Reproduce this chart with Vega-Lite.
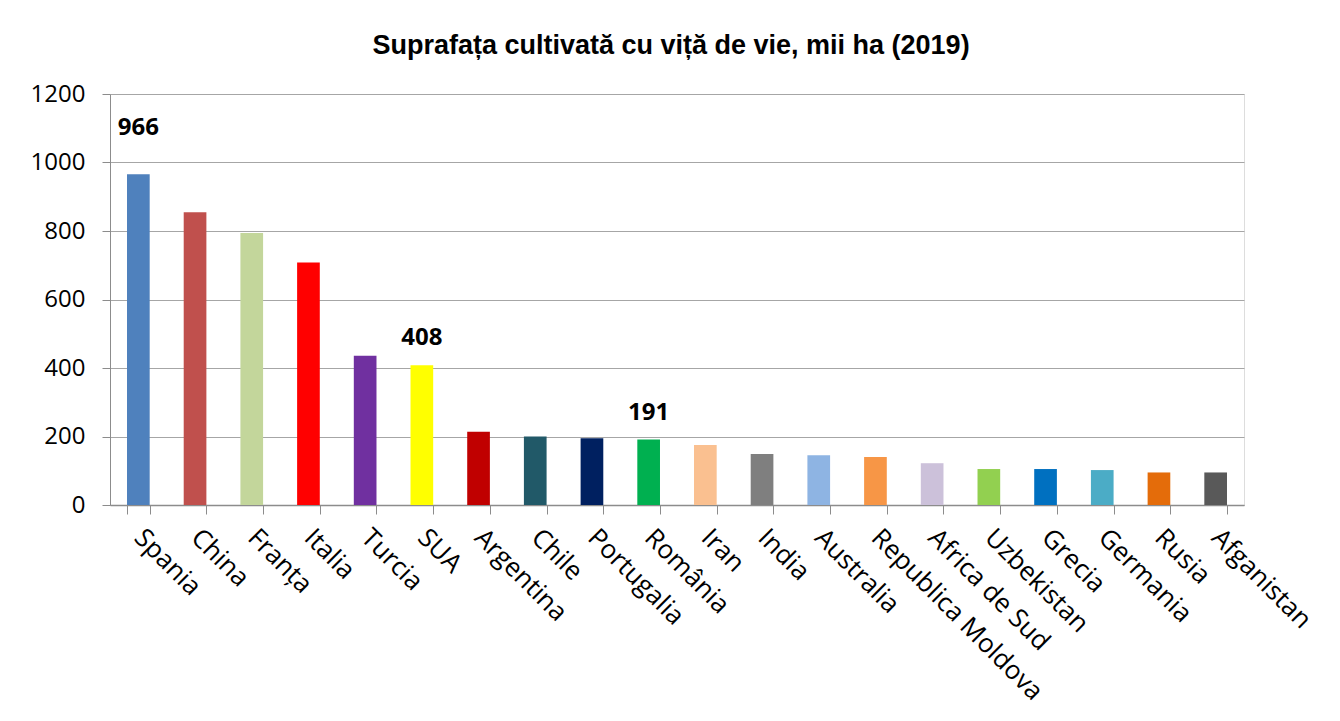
{
  "$schema": "https://vega.github.io/schema/vega-lite/v6.json",
  "width": 1134,
  "height": 411,
  "autosize": "none",
  "padding": {"left": 110, "top": 94, "right": 96, "bottom": 216},
  "background": "white",
  "title": {
    "text": "Suprafața cultivată cu viță de vie, mii ha (2019)",
    "font": "Liberation Sans Narrow, Liberation Sans",
    "fontSize": 27,
    "fontWeight": "bold",
    "color": "black",
    "anchor": "middle",
    "dx": -6,
    "offset": 22
  },
  "data": {
    "values": [
      {"tara": "Spania", "suprafata": 966},
      {"tara": "China", "suprafata": 855},
      {"tara": "Franța", "suprafata": 794},
      {"tara": "Italia", "suprafata": 708},
      {"tara": "Turcia", "suprafata": 436},
      {"tara": "SUA", "suprafata": 408},
      {"tara": "Argentina", "suprafata": 214},
      {"tara": "Chile", "suprafata": 200},
      {"tara": "Portugalia", "suprafata": 195},
      {"tara": "România", "suprafata": 191},
      {"tara": "Iran", "suprafata": 175},
      {"tara": "India", "suprafata": 149},
      {"tara": "Australia", "suprafata": 145},
      {"tara": "Republica Moldova", "suprafata": 140},
      {"tara": "Africa de Sud", "suprafata": 122},
      {"tara": "Uzbekistan", "suprafata": 105},
      {"tara": "Grecia", "suprafata": 105},
      {"tara": "Germania", "suprafata": 102},
      {"tara": "Rusia", "suprafata": 95},
      {"tara": "Afganistan", "suprafata": 95}
    ]
  },
  "encoding": {
    "x": {
      "field": "tara",
      "type": "nominal",
      "sort": null,
      "scale": {"paddingInner": 0.6, "paddingOuter": 0.3},
      "axis": {
        "title": null,
        "labelAngle": 45,
        "labelFont": "Open Sans",
        "labelFontSize": 26,
        "labelColor": "black",
        "labelLimit": 400,
        "labelPadding": 10,
        "labelOffset": 9,
        "tickBand": "extent",
        "tickSize": 9,
        "tickColor": "#8c8c8c",
        "domainColor": "#8c8c8c",
        "domainWidth": 1.5
      }
    },
    "y": {
      "field": "suprafata",
      "type": "quantitative",
      "scale": {"domain": [0, 1200], "nice": false},
      "axis": {
        "title": null,
        "values": [0, 200, 400, 600, 800, 1000, 1200],
        "format": "d",
        "labelFont": "Open Sans",
        "labelFontSize": 24,
        "labelColor": "black",
        "labelPadding": 17,
        "tickSize": 8,
        "tickColor": "#8c8c8c",
        "domainColor": "#8c8c8c",
        "grid": true,
        "gridColor": "#a6a6a6",
        "gridWidth": 1.2
      }
    }
  },
  "layer": [
    {
      "mark": {"type": "bar"},
      "encoding": {
        "color": {
          "field": "tara",
          "type": "nominal",
          "sort": null,
          "legend": null,
          "scale": {
            "domain": ["Spania", "China", "Franța", "Italia", "Turcia", "SUA", "Argentina", "Chile", "Portugalia", "România", "Iran", "India", "Australia", "Republica Moldova", "Africa de Sud", "Uzbekistan", "Grecia", "Germania", "Rusia", "Afganistan"],
            "range": ["#4F81BD", "#C0504D", "#C3D69B", "#FF0000", "#7030A0", "#FFFF00", "#C00000", "#215968", "#002060", "#00B050", "#FAC090", "#7F7F7F", "#8EB4E3", "#F79646", "#CCC1DA", "#92D050", "#0070C0", "#4BACC6", "#E46C0A", "#595959"]
          }
        }
      }
    },
    {
      "transform": [{"filter": "datum.tara === 'SUA' || datum.tara === 'România'"}],
      "mark": {"type": "text", "dy": -27, "font": "Open Sans", "fontSize": 24, "fontWeight": "bold", "color": "black"},
      "encoding": {"text": {"field": "suprafata", "type": "quantitative"}}
    },
    {
      "transform": [{"filter": "datum.tara === 'Spania'"}],
      "mark": {"type": "text", "dy": -46, "font": "Open Sans", "fontSize": 24, "fontWeight": "bold", "color": "black"},
      "encoding": {"text": {"field": "suprafata", "type": "quantitative"}}
    }
  ]
}
